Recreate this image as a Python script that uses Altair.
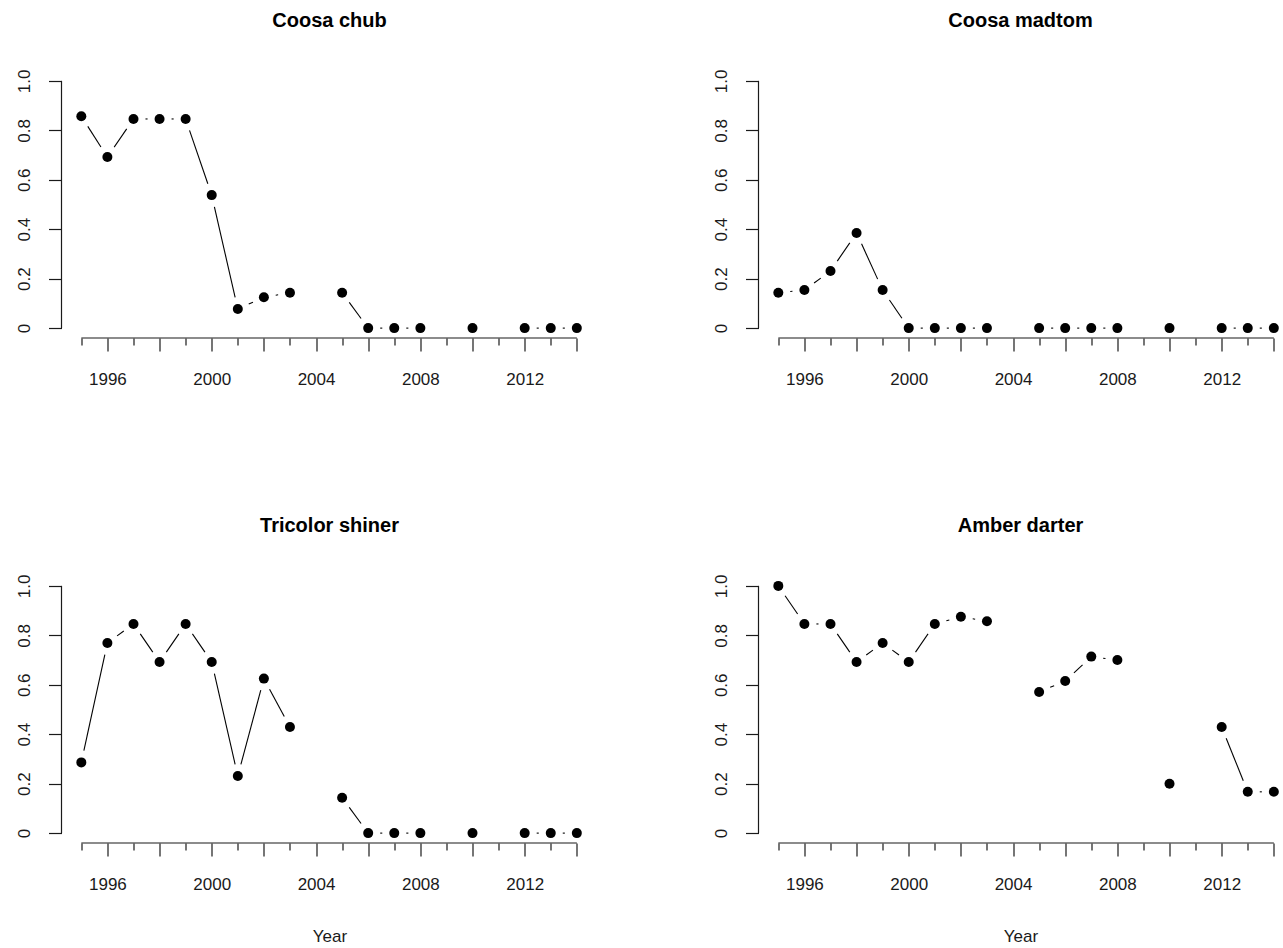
import math
import altair as alt
import pandas as pd

# ---------------- data ----------------
years = [1995, 1996, 1997, 1998, 1999, 2000, 2001, 2002, 2003,
         2005, 2006, 2007, 2008, 2010, 2012, 2013, 2014]
coosa_chub = [0.857, 0.692, 0.846, 0.846, 0.846, 0.538, 0.077, 0.125, 0.143,
              0.143, 0.0, 0.0, 0.0, 0.0, 0.0, 0.0, 0.0]
coosa_madtom = [0.143, 0.154, 0.231, 0.385, 0.154, 0.0, 0.0, 0.0, 0.0,
                0.0, 0.0, 0.0, 0.0, 0.0, 0.0, 0.0, 0.0]
tricolor_shiner = [0.286, 0.769, 0.846, 0.692, 0.846, 0.692, 0.231, 0.625, 0.429,
                   0.143, 0.0, 0.0, 0.0, 0.0, 0.0, 0.0, 0.0]
amber_darter = [1.0, 0.846, 0.846, 0.692, 0.769, 0.692, 0.846, 0.875, 0.857,
                0.571, 0.615, 0.714, 0.700, 0.200, 0.429, 0.167, 0.167]
species = ["Coosa chub", "Coosa madtom", "Tricolor shiner", "Amber darter"]
tick_years = list(range(1995, 2015))
label_years = [1996, 2000, 2004, 2008, 2012]
y_ticks = [0, 0.2, 0.4, 0.6, 0.8, 1.0]

FONT = "Liberation Sans"
PX_YEAR = 26.08
W_LEFT = 536
W_RIGHT = 524
H = 267
X_MIN = 1994.24
Y_DOM = [-0.04, 1.04]
PX_VAL = H / (Y_DOM[1] - Y_DOM[0])
GAP = 12  # pixel gap around points, as in R type="b"


def segments(vals):
    """Line pieces between consecutive years, shortened near the points."""
    rows = []
    for i in range(len(years) - 1):
        x0, x1 = years[i], years[i + 1]
        if x1 - x0 != 1:
            continue
        y0, y1 = vals[i], vals[i + 1]
        dx, dy = (x1 - x0) * PX_YEAR, (y1 - y0) * PX_VAL
        L = math.hypot(dx, dy)
        if L <= 2 * GAP:
            continue
        t = GAP / L
        rows.append({
            "xa": x0 + t * (x1 - x0), "ya": y0 + t * (y1 - y0),
            "xb": x1 - t * (x1 - x0), "yb": y1 - t * (y1 - y0),
        })
    return pd.DataFrame(rows)


label_test = "indexof([" + ",".join(str(v) for v in label_years) + "], datum.value) >= 0"


def panel(name, vals, width, bottom):
    df = pd.DataFrame({"year": years, "value": vals})
    xmax = X_MIN + width / PX_YEAR
    xscale = alt.Scale(domain=[X_MIN, xmax], nice=False, zero=False)
    yscale = alt.Scale(domain=Y_DOM, nice=False, zero=False)

    xaxis_kw = dict(
        values=tick_years, format="d", domain=False, grid=False,
        labelExpr=f"{label_test} ? datum.label : ''",
        labelOverlap=False, labelFlush=False,
        tickSize={"condition": {"test": "datum.value % 2 == 0", "value": 13}, "value": 7},
        labelPadding=20, labelFontSize=17, labelFont=FONT, labelColor="#1a1a1a",
        tickColor="#1a1a1a", tickWidth=1.2,
    )
    if bottom:
        xaxis = alt.Axis(title="Year", titleFont=FONT, titleFontSize=17,
                         titleFontWeight="normal", titleColor="#1a1a1a",
                         titlePadding=36, **xaxis_kw)
    else:
        xaxis = alt.Axis(title=None, **xaxis_kw)

    yaxis = alt.Axis(
        values=y_ticks, domain=False, grid=False, title=None,
        labelExpr="datum.value == 0 ? '0' : format(datum.value, '.1f')",
        labelAngle=270, labelAlign="center", labelBaseline="bottom",
        tickSize=13, labelPadding=15, labelFontSize=17, labelFont=FONT,
        labelColor="#1a1a1a", tickColor="#1a1a1a", tickWidth=1.2,
    )

    seg = alt.Chart(segments(vals)).mark_rule(color="black", strokeWidth=1.1).encode(
        x=alt.X("xa:Q", scale=xscale, axis=xaxis), x2="xb:Q",
        y=alt.Y("ya:Q", scale=yscale, axis=yaxis), y2="yb:Q",
    )
    xline = alt.Chart(pd.DataFrame({"x": [tick_years[0]], "x2": [tick_years[-1]]})).mark_rule(
        color="#1a1a1a", strokeWidth=1.2
    ).encode(
        x=alt.X("x:Q", scale=xscale, axis=xaxis), x2="x2:Q", y=alt.value(H)
    )
    yline = alt.Chart(pd.DataFrame({"y": [y_ticks[0]], "y2": [y_ticks[-1]]})).mark_rule(
        color="#1a1a1a", strokeWidth=1.2
    ).encode(
        y=alt.Y("y:Q", scale=yscale, axis=yaxis), y2="y2:Q", x=alt.value(0)
    )
    pts = alt.Chart(df).mark_circle(color="black", opacity=1, size=100).encode(
        x=alt.X("year:Q", scale=xscale, axis=xaxis),
        y=alt.Y("value:Q", scale=yscale, axis=yaxis),
    )
    return alt.layer(seg, xline, yline, pts).properties(
        width=width, height=H,
        title=alt.TitleParams(text=name, font=FONT, fontSize=20, fontWeight="bold",
                              color="black", anchor="middle", baseline="alphabetic",
                              offset=22),
    )


tl = panel(species[0], coosa_chub, W_LEFT, False)
tr = panel(species[1], coosa_madtom, W_RIGHT, False)
bl = panel(species[2], tricolor_shiner, W_LEFT, True)
br = panel(species[3], amber_darter, W_RIGHT, True)

chart = alt.concat(tl, tr, bl, br, columns=2,
                   spacing={"row": 238, "column": 161}, bounds="flush").properties(
    padding={"left": 14.5, "top": 11, "right": 0, "bottom": 0}
).configure_view(stroke=None, strokeWidth=0)

chart.save("out.html", embed_options={"renderer": "svg", "actions": False})
